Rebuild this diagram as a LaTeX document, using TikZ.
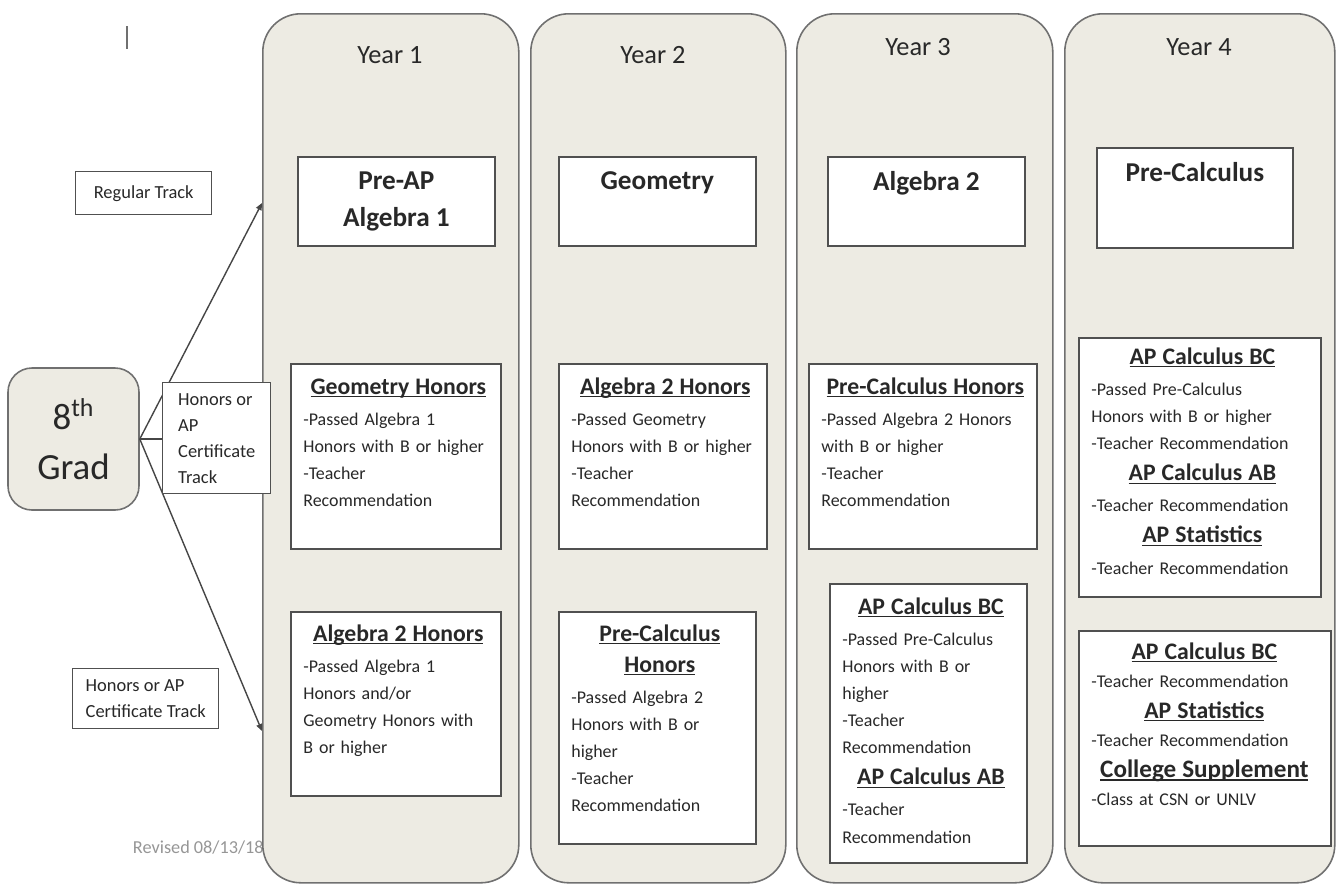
\documentclass[tikz,border=0pt]{standalone}
\usepackage{fontspec}
\setmainfont{Carlito}
\usetikzlibrary{arrows.meta,positioning}

\definecolor{colfill}{RGB}{237,235,227}
\definecolor{colline}{RGB}{112,112,112}
\definecolor{boxline}{RGB}{80,80,80}
\definecolor{arrcol}{RGB}{70,70,70}
\definecolor{txtcol}{RGB}{40,40,40}
\definecolor{revcol}{RGB}{150,150,150}

\newlength{\px}
\setlength{\px}{0.02cm}

% underline that sits just under the baseline
\newcommand{\crsul}[1]{\leavevmode\setbox0=\hbox{#1}\rlap{\rule[-1.8pt]{\wd0}{0.7pt}}\box0}
% centred course heading inside a box
\newcommand{\hdg}[2][2.4pt]{\par{\centering\fontsize{13.5}{17.6}\selectfont\bfseries\crsul{#2}\par}\vspace{#1}}

\begin{document}
\begin{tikzpicture}[
  x=0.02cm, y=-0.02cm,
  >={Triangle[length=4pt,width=3.4pt]},
  yearcol/.style={draw=colline, fill=colfill, line width=0.9pt, rounded corners=38\px, anchor=north west, inner sep=0},
  yearlbl/.style={font=\fontsize{15}{18}\selectfont, text=txtcol},
  crsbox/.style={draw=boxline, fill=white, line width=1pt, anchor=north west, inner sep=0},
  crstitle/.style={anchor=north, inner sep=0, align=center, font=\fontsize{15.5}{21.6}\selectfont\bfseries, text=txtcol},
  crstext/.style={anchor=north west, inner sep=0, align=left, font=\fontsize{10.2}{15.4}\selectfont, text=txtcol},
  trackbox/.style={draw=boxline, fill=white, line width=0.8pt, align=left, inner sep=0, font=\fontsize{10.5}{14.8}\selectfont, text=txtcol},
  gradbox/.style={draw=colline, fill=colfill, line width=0.9pt, rounded corners=24\px, align=center, inner sep=0, font=\fontsize{21}{28.5}\selectfont, text=txtcol},
  trk/.style={->, draw=arrcol, line width=0.8pt}
]
  \useasboundingbox (0,0) rectangle (1336,883);

  \draw[colline, line width=0.8pt] (127,26) -- (127,49);
  \node[anchor=east, inner sep=0, text=revcol, font=\fontsize{10.4}{12}\selectfont] (rev) at (264,848) {Revised 08/13/18};

  % year columns
  \node[yearcol, minimum width=256\px, minimum height=869\px] (col1) at (262,13) {};
  \node[yearcol, minimum width=255\px, minimum height=869\px] (col2) at (530,13) {};
  \node[yearcol, minimum width=256\px, minimum height=869\px] (col3) at (796,13) {};
  \node[yearcol, minimum width=270\px, minimum height=869\px] (col4) at (1064,13) {};

  \node[yearlbl] (yr1) at (390,55) {Year 1};
  \node[yearlbl] (yr2) at (653,55) {Year 2};
  \node[yearlbl] (yr3) at (918,47) {Year 3};
  \node[yearlbl] (yr4) at (1199,47) {Year 4};

  % regular track
  \node[crsbox, minimum width=197\px, minimum height=89\px] (preap) at (297,156) {};
  \node[crstitle] (preap-t) at ([shift={(0,15)}]preap.north) {Pre-AP\\Algebra 1};
  \node[crsbox, minimum width=197\px, minimum height=89\px] (geo) at (558,156) {};
  \node[crstitle] (geo-t) at ([shift={(0,15)}]geo.north) {Geometry};
  \node[crsbox, minimum width=197\px, minimum height=89\px] (alg2) at (827,156) {};
  \node[crstitle] (alg2-t) at ([shift={(0,15)}]alg2.north) {Algebra 2};
  \node[crsbox, minimum width=196\px, minimum height=100\px] (pcalc) at (1096,147) {};
  \node[crstitle] (pcalc-t) at ([shift={(0,15)}]pcalc.north) {Pre-Calculus};

  % honors track
  \node[crsbox, minimum width=210\px, minimum height=185\px] (y1h) at (290,363) {};
  \node[crstext, text width=190\px] (y1h-t) at ([shift={(13,0)}]y1h.north west) {%
    \hdg{Geometry Honors}
    -Passed Algebra 1\\ Honors with B or higher\\ -Teacher\\ Recommendation};
  \node[crsbox, minimum width=208\px, minimum height=185\px] (y2h) at (558,363) {};
  \node[crstext, text width=188\px] (y2h-t) at ([shift={(13,0)}]y2h.north west) {%
    \hdg{Algebra 2 Honors}
    -Passed Geometry\\ Honors with B or higher\\ -Teacher\\ Recommendation};
  \node[crsbox, minimum width=228\px, minimum height=185\px] (y3h) at (808,363) {};
  \node[crstext, text width=208\px] (y3h-t) at ([shift={(13,0)}]y3h.north west) {%
    \hdg{Pre-Calculus Honors}
    -Passed Algebra 2 Honors\\ with B or higher\\ -Teacher\\ Recommendation};
  \node[crsbox, minimum width=242\px, minimum height=259\px] (y4ap) at (1078,337) {};
  \node[crstext, text width=222\px] (y4ap-t) at ([shift={(13,-4)}]y4ap.north west) {%
    \hdg{AP Calculus BC}
    -Passed Pre-Calculus\\ Honors with B or higher\\ -Teacher Recommendation
    \hdg{AP Calculus AB}
    -Teacher Recommendation
    \hdg{AP Statistics}
    -Teacher Recommendation};

  % honors or AP certificate track
  \node[crsbox, minimum width=210\px, minimum height=184\px] (y1a) at (290,611) {};
  \node[crstext, text width=190\px] (y1a-t) at ([shift={(13,-1)}]y1a.north west) {%
    \hdg{Algebra 2 Honors}
    -Passed Algebra 1\\ Honors and/or\\ Geometry Honors with\\ B or higher};
  \node[crsbox, minimum width=197\px, minimum height=232\px] (y2p) at (558,611) {};
  \node[crstext, text width=177\px] (y2p-t) at ([shift={(13,-1)}]y2p.north west) {%
    \hdg[0pt]{Pre-Calculus}\hdg{Honors}
    -Passed Algebra 2\\ Honors with B or\\ higher\\ -Teacher\\ Recommendation};
  \node[crsbox, minimum width=197\px, minimum height=279\px] (y3ap) at (829,583) {};
  \node[crstext, text width=177\px] (y3ap-t) at ([shift={(13,0)}]y3ap.north west) {%
    \hdg{AP Calculus BC}
    -Passed Pre-Calculus\\ Honors with B or\\ higher\\ -Teacher\\ Recommendation
    \hdg{AP Calculus AB}
    -Teacher\\ Recommendation};
  \node[crsbox, minimum width=252\px, minimum height=215\px] (y4opt) at (1078,630) {};
  \node[crstext, text width=226\px] (y4opt-t) at ([shift={(13,-2)}]y4opt.north west) {%
    \hdg[0.6pt]{AP Calculus BC}
    -Teacher Recommendation
    \hdg[0.6pt]{AP Statistics}
    -Teacher Recommendation
    \hdg[0.6pt]{\fontsize{14.3}{17.6}\selectfont College Supplement}
    -Class at CSN or UNLV};

  % 8th grade and the tracks
  \node[gradbox, minimum width=131\px, minimum height=142\px] (grad) at (73.5,439) {8\textsuperscript{th}\\Grad};
  \node[trackbox, minimum width=136\px, minimum height=43\px, align=center, anchor=north west] (regtrk) at (75,171) {Regular Track};
  \node[trackbox, minimum width=146\px, minimum height=60\px, anchor=north west] (hlow) at (72,668) {Honors or AP\\Certificate Track};

  \coordinate (regtip) at (262,203);
  \coordinate (hontip) at (262,731);
  \draw[trk] (grad.east) -- (regtip);
  \draw[trk] (grad.east) -- (hontip);

  \node[trackbox, minimum width=108\px, minimum height=111\px, anchor=north west] (hmid) at (162,382) {Honors or\\AP\\Certificate\\Track};
  \draw[draw=arrcol, line width=0.8pt] (grad.east) -- (grad.east -| hmid.west);
\end{tikzpicture}
\end{document}
